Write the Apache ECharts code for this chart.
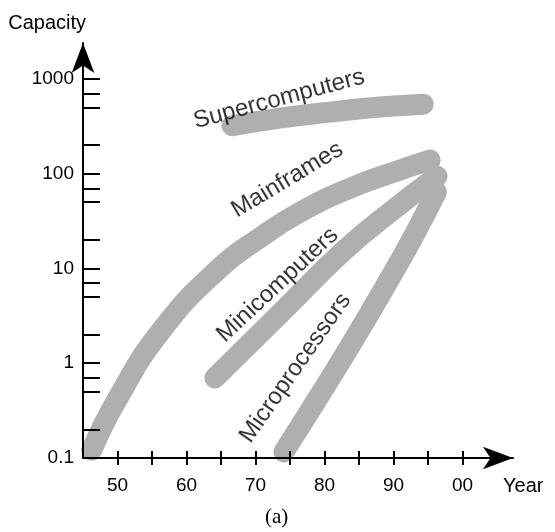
<!DOCTYPE html>
<html>
<head>
<meta charset="utf-8">
<script src="https://cdn.jsdelivr.net/npm/echarts@6/dist/echarts.min.js"></script>
<style>html,body{margin:0;padding:0;background:#fff}#c{width:555px;height:532px}</style>
</head>
<body>
<div id="c"></div>
<script>
// ---- data ----
const superYears = [66.6, 73.5, 80.8, 88, 94.3];
const superCap   = [320, 385, 445, 505, 540];
const mainYears  = [46.26, 49.9, 56.4, 64.8, 70.6, 76.4, 83.65, 90.9, 95.3];
const mainCap    = [0.121, 0.41, 2.24, 10.1, 21, 39, 70, 109, 139];
const miniYears  = [64.1, 73.5, 82.9, 90.2, 96.3];
const miniCap    = [0.70, 3.3, 15.6, 43, 94];
const microYears = [74.1, 79.3, 84.4, 88.7, 92.6, 96.2];
const microCap   = [0.116, 0.46, 1.85, 6.3, 20, 64];

const labelNames  = ['Supercomputers', 'Mainframes', 'Minicomputers', 'Microprocessors'];
const labelYears  = [73.4, 74.6, 73.2, 75.8];
const labelCap    = [610, 86, 6.7, 0.89];
const labelAngles = [15, 31, 43, 55];

const xTickValues  = [50, 55, 60, 65, 70, 75, 80, 85, 90, 95, 100];
const xLabelValues = [50, 60, 70, 80, 90, 100];
const yTickValues  = [0.1, 0.2, 0.5, 0.7, 1, 2, 5, 7, 10, 20, 50, 70, 100, 200, 500, 700, 1000];
const yLabelValues = [0.1, 1, 10, 100, 1000];

const zip = (xs, ys) => xs.map((x, i) => [x, ys[i]]);

const bandStyle = { color: '#afafaf', width: 21, cap: 'round', join: 'round' };
function band(name, xs, ys) {
  return {
    name, type: 'line', data: zip(xs, ys), smooth: 0.5, showSymbol: false, symbol: 'none',
    lineStyle: bandStyle, z: 1, silent: true, animation: false
  };
}

const chart = echarts.init(document.getElementById('c'), null, { renderer: 'canvas' });
const font = 'Liberation Sans, Arial, Helvetica, sans-serif';
chart.setOption({
  animation: false,
  backgroundColor: '#fff',
  title: {
    text: '(a)', left: 260, top: 502,
    textStyle: { fontFamily: 'Liberation Serif, Times New Roman, serif', fontSize: 21, fontWeight: 'normal', color: '#000' }
  },
  grid: { left: 83, right: 42, top: 43, bottom: 74, containLabel: false },
  xAxis: [{
    type: 'value', min: 45, max: 107.3, z: 5,
    name: 'Year', nameLocation: 'end', nameGap: -10,
    nameTextStyle: { fontFamily: font, fontSize: 20, color: '#000', align: 'left', verticalAlign: 'top', padding: [18, 0, 0, 0] },
    axisLine: { show: true, symbol: ['none', 'arrow'], symbolSize: [17, 30], lineStyle: { color: '#000', width: 2 } },
    axisTick: { show: true, inside: false, length: 7, customValues: xTickValues, lineStyle: { color: '#000', width: 2 } },
    axisLabel: {
      show: true, customValues: xLabelValues, margin: 18, color: '#000', fontFamily: font, fontSize: 19,
      formatter: v => String(v % 100).padStart(2, '0')
    },
    splitLine: { show: false }
  }, {
    type: 'value', min: 45, max: 107.3, z: 5, position: 'bottom',
    axisLine: { show: false },
    axisTick: { show: true, inside: true, length: 7, customValues: xTickValues, lineStyle: { color: '#000', width: 2 } },
    axisLabel: { show: false },
    splitLine: { show: false }
  }],
  yAxis: {
    type: 'log', logBase: 10, min: 0.1, max: 2388, z: 5,
    name: 'Capacity', nameLocation: 'end', nameGap: 10,
    nameTextStyle: { fontFamily: font, fontSize: 20, color: '#000', align: 'right', verticalAlign: 'bottom', padding: [0, -3, 0, 0] },
    axisLine: { show: true, symbol: ['none', 'arrow'], symbolSize: [17, 30], lineStyle: { color: '#000', width: 2 } },
    axisTick: { show: true, inside: true, length: 17, customValues: yTickValues, lineStyle: { color: '#000', width: 2 } },
    axisLabel: {
      show: true, customValues: yLabelValues, margin: 9, color: '#000', fontFamily: font, fontSize: 19,
      formatter: v => (v < 1 ? String(Math.round(v * 10) / 10) : String(Math.round(v)))
    },
    splitLine: { show: false }
  },
  series: [
    band('Supercomputers', superYears, superCap),
    band('Mainframes', mainYears, mainCap),
    band('Minicomputers', miniYears, miniCap),
    band('Microprocessors', microYears, microCap),
    {
      type: 'scatter', symbolSize: 0, z: 6, silent: true,
      data: labelNames.map((n, i) => ({
        value: [labelYears[i], labelCap[i]],
        label: { show: true, position: 'inside', formatter: n, rotate: labelAngles[i],
          color: '#000', fontFamily: font, fontSize: 24 }
      }))
    }
  ]
});
</script>
</body>
</html>
